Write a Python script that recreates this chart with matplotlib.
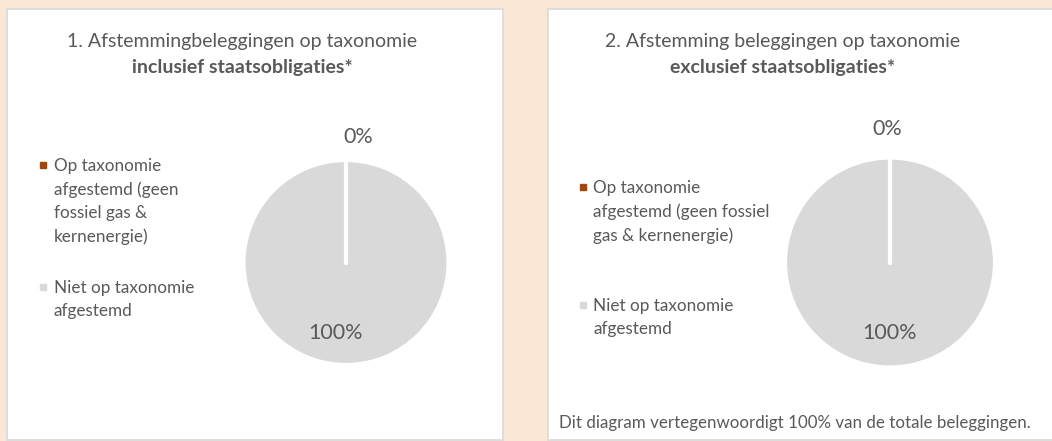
import numpy as np
import matplotlib.pyplot as plt
from matplotlib.lines import Line2D
from matplotlib.patches import Rectangle

plt.rcParams["font.family"] = ["Lato", "DejaVu Sans"]

# data
categories = [
    "Op taxonomie afgestemd (geen fossiel gas & kernenergie)",
    "Niet op taxonomie afgestemd",
]
incl_values = [0, 100]
excl_values = [0, 100]
titles = [
    ("1. Afstemmingbeleggingen op taxonomie", "inclusief staatsobligaties*"),
    ("2. Afstemming beleggingen op taxonomie", "exclusief staatsobligaties*"),
]
legend_lines = [
    ["Op taxonomie\nafgestemd (geen\nfossiel gas &\nkernenergie)", "Niet op taxonomie\nafgestemd"],
    ["Op taxonomie\nafgestemd (geen fossiel\ngas & kernenergie)", "Niet op taxonomie\nafgestemd"],
]
footnote = "Dit diagram vertegenwoordigt 100% van de totale beleggingen."

colors = ["#9E480E", "#D9D9D9"]
text_color = "#595959"
W, H = 1052, 441

fig = plt.figure(figsize=(W / 100, H / 100), dpi=100)
fig.patch.set_facecolor("#FBE7D6")


def px(x, y):
    # pixel (from top-left) -> figure fraction
    return x / W, 1 - y / H


# white panels
for x0, x1 in [(7, 503), (548, 1060)]:
    fig.add_artist(Rectangle(px(x0, 440), (x1 - x0) / W, (440 - 9) / H,
                             transform=fig.transFigure, facecolor="white",
                             edgecolor="#D9D9D9", linewidth=1.2, zorder=0))

panels = [
    dict(values=incl_values, cx=346, cy=262.5, r=102.5, title_x=242,
         lab0=(0.12, 1.22), lab1=(-0.1, -0.69),
         leg_x=43, leg_text_x=54, leg_y=[165, 287]),
    dict(values=excl_values, cx=890, cy=262.5, r=105, title_x=783,
         lab0=(-0.03, 1.27), lab1=(0.0, -0.67),
         leg_x=583, leg_text_x=593, leg_y=[187, 305]),
]

for i, p in enumerate(panels):
    x0, y0 = px(p["cx"] - p["r"], p["cy"] + p["r"])
    ax = fig.add_axes([x0, y0, 2 * p["r"] / W, 2 * p["r"] / H])
    wedges, _ = ax.pie(p["values"], colors=colors, startangle=90, counterclock=False,
                       wedgeprops=dict(edgecolor="white", linewidth=3))
    # slice boundary of the 0% wedge (white separator)
    ang = np.deg2rad(wedges[0].theta1)
    ax.plot([0, np.cos(ang)], [0, np.sin(ang)], color="white", linewidth=3,
            solid_capstyle="round")
    ax.set_xlim(-1, 1)
    ax.set_ylim(-1, 1)
    for v, pos in zip(p["values"], [p["lab0"], p["lab1"]]):
        ax.text(pos[0], pos[1], f"{v}%", ha="center", va="center",
                fontsize=15.5, color=text_color, clip_on=False)

    # title
    tx, ty = px(p["title_x"], 42)
    fig.text(tx, ty, titles[i][0], ha="center", va="center", fontsize=14, color=text_color)
    tx, ty = px(p["title_x"], 68)
    fig.text(tx, ty, titles[i][1], ha="center", va="center", fontsize=14,
             color=text_color, fontweight="bold")

    # legend
    for c, label, ly in zip(colors, legend_lines[i], p["leg_y"]):
        mx, my = px(p["leg_x"], ly)
        fig.add_artist(Line2D([mx], [my], marker="s", markersize=4.5, color=c,
                              linestyle="none", transform=fig.transFigure))
        lx, ly2 = px(p["leg_text_x"], ly - 7)
        fig.text(lx, ly2, label, ha="left", va="top", fontsize=12.3,
                 color=text_color, linespacing=1.54)

fx, fy = px(559, 423)
fig.text(fx, fy, footnote, ha="left", va="center", fontsize=12.2, color=text_color)

fig.savefig("out.png", dpi=100, facecolor=fig.get_facecolor())
